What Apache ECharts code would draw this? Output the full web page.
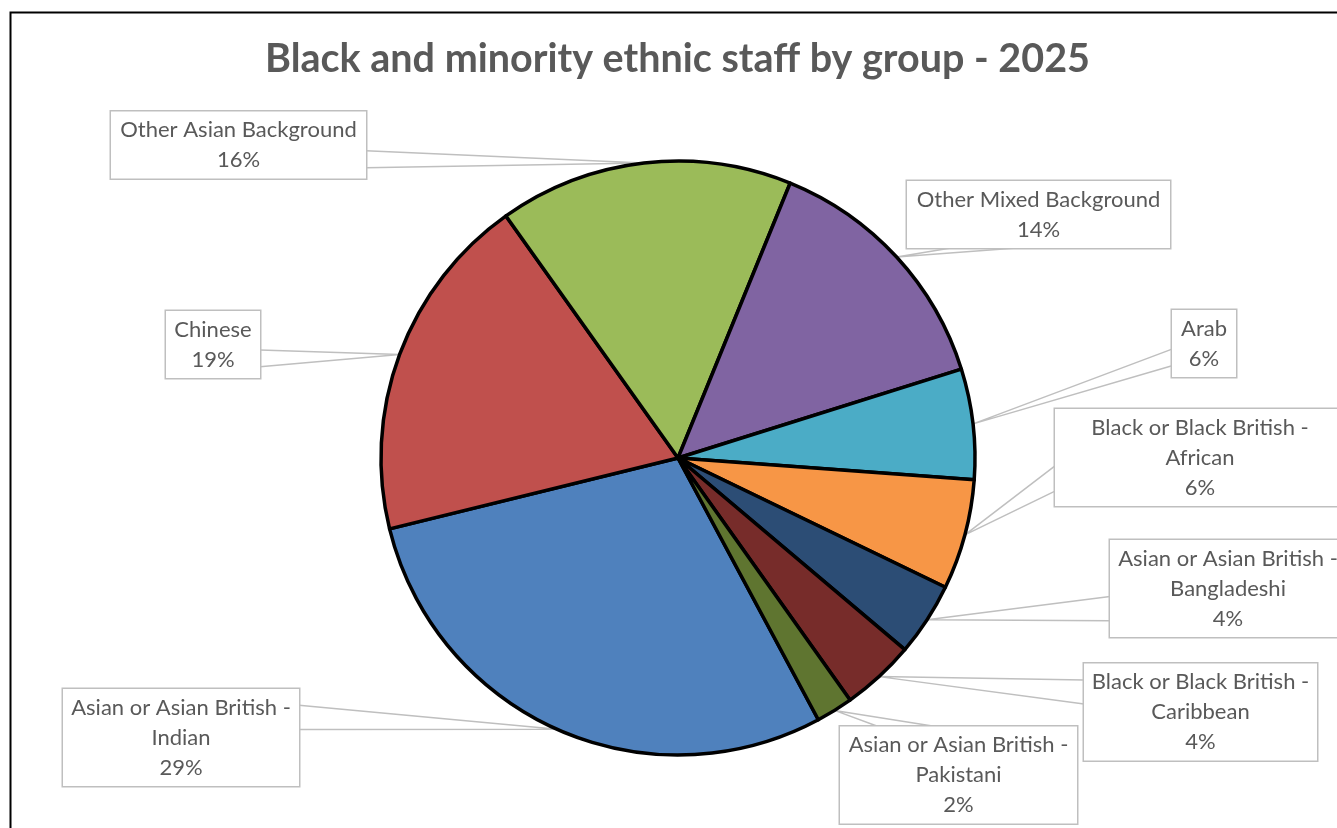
<!DOCTYPE html>
<html>
<head>
<meta charset="utf-8">
<title>Black and minority ethnic staff by group - 2025</title>
<script src="https://cdn.jsdelivr.net/npm/echarts@6/dist/echarts.min.js"></script>
<style>
  html, body { margin: 0; padding: 0; background: #fff; }
  #chart { width: 1337px; height: 828px; }
</style>
</head>
<body>
<div id="chart"></div>
<script>
// Ethnic group categories, in slice order (clockwise)
const categories = [
  'Asian or Asian British - Indian',
  'Chinese',
  'Other Asian Background',
  'Other Mixed Background',
  'Arab',
  'Black or Black British - African',
  'Asian or Asian British - Bangladeshi',
  'Black or Black British - Caribbean',
  'Asian or Asian British - Pakistani'
];

// Share of black and minority ethnic staff, per cent
const shares = [29, 19, 16, 14, 6, 6, 4, 4, 2];

// Slice fills
const sliceColors = [
  '#4F81BD', '#C0504D', '#9BBB59', '#8064A2', '#4BACC6',
  '#F79646', '#2C4D75', '#772C2A', '#5F7530'
];

// Callout boxes: left, top, width, height (px)
const calloutBoxes = [
  [63, 689, 236, 97],
  [166, 311, 94, 67],
  [111, 111, 255, 68],
  [907, 181, 263, 67],
  [1172, 310, 64, 67],
  [1055, 407, 290, 101],
  [1110, 540, 236, 97],
  [1084, 664, 233, 96],
  [840, 727, 237, 96]
];

const chart = echarts.init(document.getElementById('chart'), null, { renderer: 'canvas' });

// Place each callout box and draw its wedge pointer from the box edge facing the slice
function placeCallout(params) {
  const box = calloutBoxes[params.dataIndex];
  const l = box[0], t = box[1], w = box[2], h = box[3];
  const cx = l + w / 2, cy = t + h / 2;
  const tip = params.labelLinePoints ? params.labelLinePoints[0] : [cx, cy];
  const nx = (tip[0] - cx) / (w / 2);
  const ny = (tip[1] - cy) / (h / 2);
  let a, b;
  if (Math.abs(nx) >= Math.abs(ny)) {
    const x = nx > 0 ? l + w : l;
    const f = tip[1] < cy ? [1 / 6, 5 / 12] : [7 / 12, 5 / 6];
    a = [x, t + h * f[0]];
    b = [x, t + h * f[1]];
  } else {
    const y = ny > 0 ? t + h : t;
    const f = tip[0] < cx ? [1 / 6, 5 / 12] : [7 / 12, 5 / 6];
    a = [l + w * f[0], y];
    b = [l + w * f[1], y];
  }
  return {
    x: cx,
    y: cy,
    align: 'center',
    verticalAlign: 'middle',
    width: w,
    labelLinePoints: [a, tip, b]
  };
}

const option = {
  backgroundColor: '#ffffff',
  animation: false,
  title: {
    text: 'Black and minority ethnic staff by group - 2025',
    left: 260,
    top: 34,
    textStyle: {
      fontFamily: 'Lato',
      fontWeight: 'bold',
      fontSize: 39.5,
      color: '#595959'
    }
  },
  graphic: [{
    type: 'rect',
    left: 8,
    top: 10,
    shape: { width: 1400, height: 900 },
    style: { fill: 'none', stroke: '#000000', lineWidth: 2 },
    silent: true
  }],
  series: [{
    type: 'pie',
    center: [678, 458],
    radius: 297,
    startAngle: 298.2,
    clockwise: true,
    avoidLabelOverlap: false,
    data: categories.map((name, i) => ({
      name: name,
      value: shares[i],
      itemStyle: { color: sliceColors[i] }
    })),
    itemStyle: {
      borderColor: '#000000',
      borderWidth: 3.5
    },
    label: {
      show: true,
      position: 'outside',
      formatter: p => p.name.replace(' - ', ' -\n') + '\n' + Math.round(p.percent) + '%',
      fontFamily: 'Lato',
      fontSize: 22,
      lineHeight: 30,
      color: '#595959',
      backgroundColor: '#ffffff',
      borderColor: '#bfbfbf',
      borderWidth: 1.5,
      padding: [5.5, 0, 1.5, 0],
      align: 'center'
    },
    labelLine: {
      show: true,
      smooth: false,
      length: 20,
      length2: 20,
      lineStyle: { color: '#bfbfbf', width: 1.5 }
    },
    labelLayout: placeCallout,
    emphasis: { disabled: true }
  }]
};

chart.setOption(option);
</script>
</body>
</html>
